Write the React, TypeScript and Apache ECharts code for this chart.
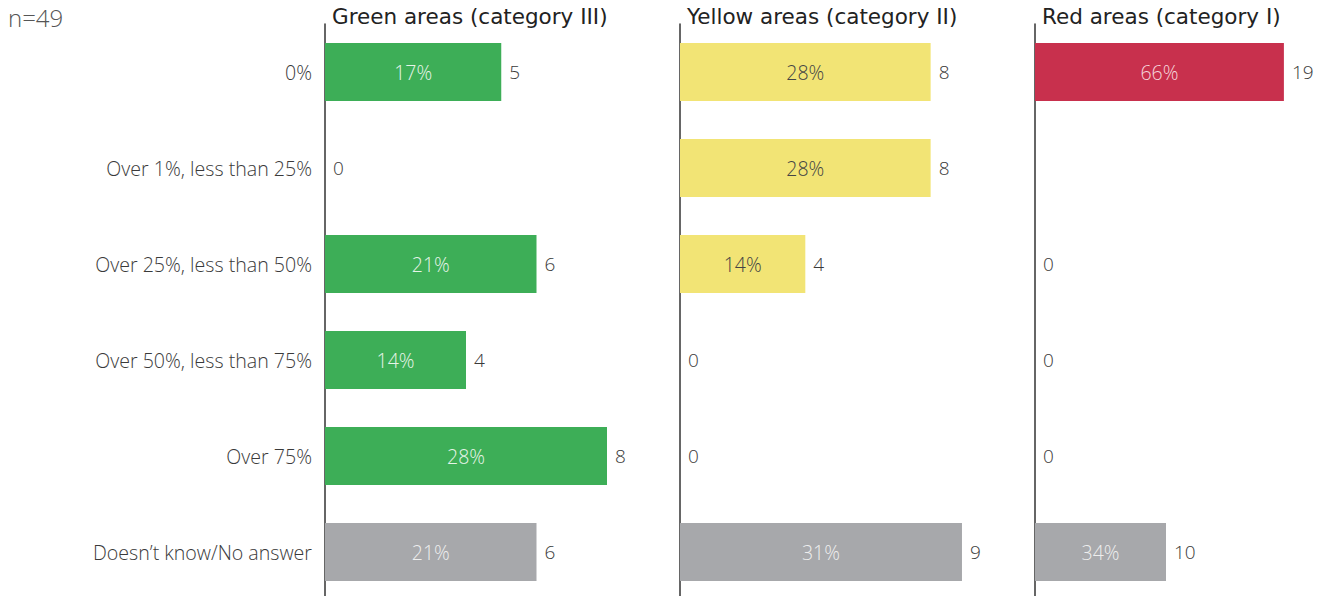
import React, { useEffect, useRef } from "react";
import * as echarts from "echarts";

const categories = [
  "0%",
  "Over 1%, less than 25%",
  "Over 25%, less than 50%",
  "Over 50%, less than 75%",
  "Over 75%",
  "Doesn\u2019t know/No answer",
];
const panelTitles = ["Green areas (category III)", "Yellow areas (category II)", "Red areas (category I)"];
const greenCounts = [5, 0, 6, 4, 8, 6];
const greenPct = ["17%", "", "21%", "14%", "28%", "21%"];
const yellowCounts = [8, 8, 4, 0, 0, 9];
const yellowPct = ["28%", "28%", "14%", "", "", "31%"];
const redCounts: (number | null)[] = [19, null, 0, 0, 0, 10];
const redPct = ["66%", "", "", "", "", "34%"];
const sampleNote = "n=49";

const FONT = "'Open Sans', Lato, sans-serif";
const TITLE_FONT = "'DejaVu Sans', sans-serif";

export default function App() {
  const ref = useRef<HTMLDivElement>(null);
  useEffect(() => {
    if (!ref.current) return;
    const chart = echarts.init(ref.current, null, { renderer: "svg" });
    const panels = [
      { left: 325, width: 352.5, max: 10, counts: greenCounts, pct: greenPct, color: "#3DAE57", inner: "#E6F4E8" },
      { left: 680, width: 313.3, max: 10, counts: yellowCounts, pct: yellowPct, color: "#F2E475", inner: "#444444" },
      { left: 1035, width: 262, max: 20, counts: redCounts, pct: redPct, color: "#C8304D", inner: "#F6D6DC" },
    ];
    const grid = panels.map((p) => ({
      left: p.left,
      width: p.width,
      top: 24,
      height: 576,
      outerBoundsMode: "none",
      containLabel: false,
    }));
    const xAxis = panels.map((p, i) => ({
      type: "value" as const,
      gridIndex: i,
      min: 0,
      max: p.max,
      show: false,
    }));
    const yAxis = panels.map((p, i) => ({
      type: "category" as const,
      gridIndex: i,
      data: categories,
      inverse: true,
      axisLine: { show: true, lineStyle: { color: "#333333", width: 1.5 } },
      axisTick: { show: false },
      axisLabel: {
        show: i === 0,
        margin: 13,
        fontSize: 19.6,
        fontFamily: FONT,
        fontWeight: 300,
        color: "#3a3a3a",
      },
    }));
    const series: any[] = [];
    panels.forEach((p, i) => {
      series.push({
        type: "bar",
        xAxisIndex: i,
        yAxisIndex: i,
        barWidth: 58,
        data: p.counts.map((v, j) => ({
          value: v,
          itemStyle: { color: j === 5 ? "#A7A8AB" : p.color },
        })),
        label: {
          show: true,
          position: "right",
          distance: 8,
          fontSize: 19,
          fontFamily: FONT,
          fontWeight: 300,
          color: "#3a3a3a",
          formatter: (d: any) => (d.value === null || d.value === undefined ? "" : String(d.value)),
        },
      });
      series.push({
        type: "bar",
        xAxisIndex: i,
        yAxisIndex: i,
        barWidth: 58,
        barGap: "-100%",
        silent: true,
        data: p.counts.map((v, j) => ({
          value: v,
          label: { color: j === 5 ? "#EEEEEE" : p.inner },
        })),
        itemStyle: { color: "rgba(0,0,0,0)" },
        label: {
          show: true,
          position: "inside",
          fontSize: 19.5,
          fontFamily: FONT,
          fontWeight: 300,
          color: p.inner,
          formatter: (d: any) => p.pct[d.dataIndex] || "",
        },
      });
    });
    chart.setOption({
      animation: false,
      backgroundColor: "#ffffff",
      title: [
        ...panelTitles.map((t, i) => ({
          text: t,
          left: panels[i].left + 7,
          top: 5,
          padding: 0,
          textStyle: { fontSize: 21.5, fontWeight: 500, fontFamily: TITLE_FONT, color: "#222222" },
        })),
        {
          text: sampleNote,
          left: 8,
          top: 5,
          padding: 0,
          textStyle: { fontSize: 24, fontWeight: 300, fontFamily: FONT, color: "#555555" },
        },
      ],
      grid,
      xAxis,
      yAxis,
      series,
    });
    return () => chart.dispose();
  }, []);
  return (
    <div
      ref={ref}
      style={{ position: "fixed", left: 0, top: 0, width: 1326, height: 596, background: "#fff" }}
    />
  );
}
